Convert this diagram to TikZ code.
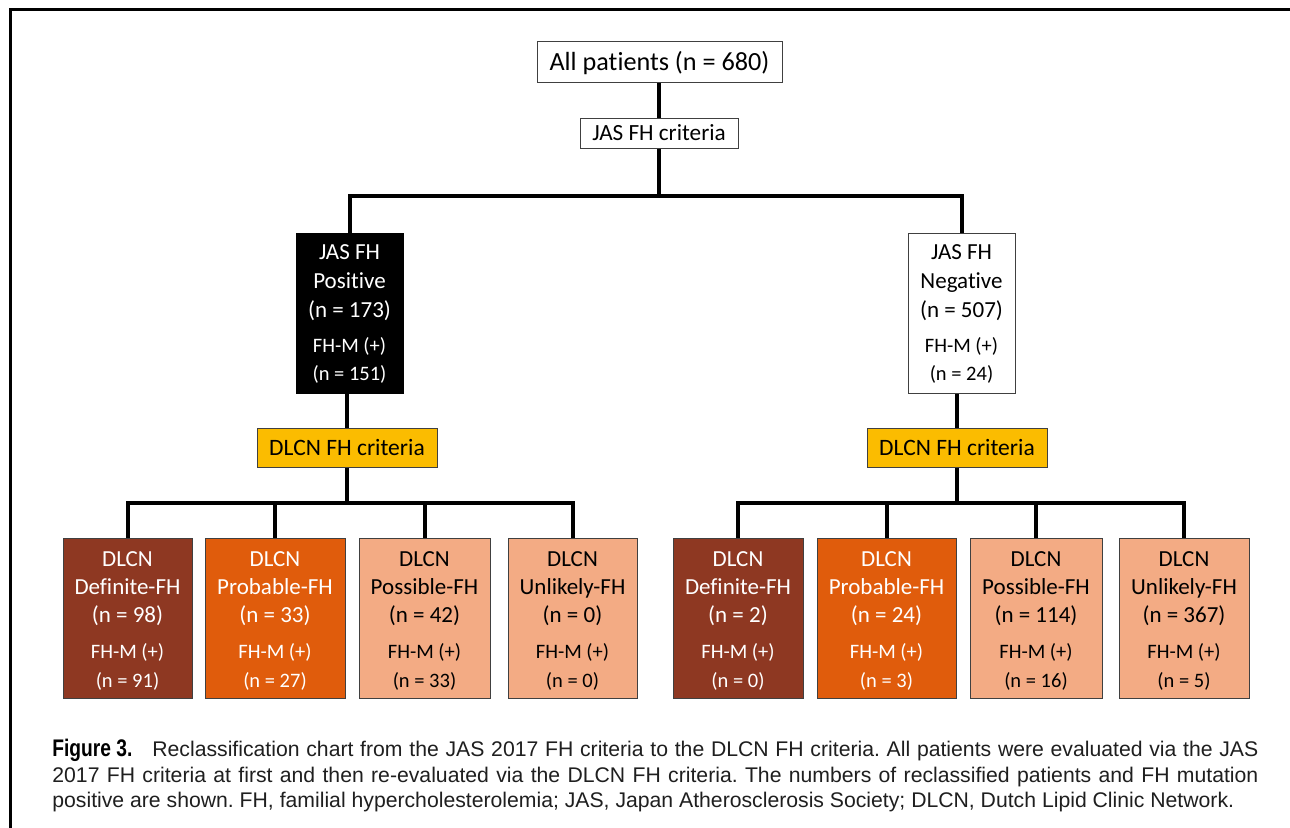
\documentclass[tikz,border=0pt]{standalone}
\usepackage{fontspec}
\setmainfont{Carlito}[Ligatures=CommonOff]
\newfontfamily\capfont{Liberation Sans}
\newfontfamily\figfont{Liberation Sans}[FakeStretch=0.8]
\usetikzlibrary{fit}
\definecolor{defc}{HTML}{8E3822}
\definecolor{probc}{HTML}{E05C0C}
\definecolor{possc}{HTML}{F3AB84}
\definecolor{goldc}{HTML}{FBBC00}
\frenchspacing
\begin{document}
\begin{tikzpicture}[x=0.5pt,y=-0.5pt,
  box/.style={draw=black!75,line width=0.5pt,inner sep=0pt},
  conn/.style={line width=2pt,line join=miter},
  big/.style={font=\fontsize{11.5}{13}\selectfont,anchor=base,inner sep=0pt},
  small/.style={font=\fontsize{10.25}{12}\selectfont,anchor=base,inner sep=0pt},
  captxt/.style={font=\capfont\fontsize{10.6}{12}\selectfont,text=black!88,anchor=base west,inner sep=0pt}]
\useasboundingbox (0,0) rectangle (1290,827);
\fill[white] (0,0) rectangle (1290,827);
% frame
\draw[line width=1.5pt] (10.5,840) -- (10.5,9.7) -- (1300,9.7);

% top boxes
\node[box,fit={(537,41)(782,82)}] (all) {};
\node[font=\fontsize{13.1}{15}\selectfont,anchor=base,inner sep=0pt] (allt) at (all |- 0,70) {All patients (n = 680)};
\node[box,fit={(580,118)(738,148)}] (jas) {};
\node[font=\fontsize{11.6}{13}\selectfont,anchor=base,inner sep=0pt] (jast) at (jas |- 0,140) {JAS FH criteria};

% positive / negative
\node[box,draw=black,fill=black,fit={(296,233)(403,393)}] (pos) {};
\node[big,text=white] (pos1) at (pos |- 0,259.5) {JAS FH};
\node[big,text=white] (pos2) at (pos |- 0,288) {Positive};
\node[big,text=white] (pos3) at (pos |- 0,317.5) {(n = 173)};
\node[small,text=white] (pos4) at (pos |- 0,352) {FH-M (+)};
\node[small,text=white] (pos5) at (pos |- 0,380) {(n = 151)};

\node[box,fit={(908,233)(1015,393)}] (neg) {};
\node[big] (neg1) at (neg |- 0,259.5) {JAS FH};
\node[big] (neg2) at (neg |- 0,288) {Negative};
\node[big] (neg3) at (neg |- 0,317.5) {(n = 507)};
\node[small] (neg4) at (neg |- 0,352) {FH-M (+)};
\node[small] (neg5) at (neg |- 0,380) {(n = 24)};

% DLCN criteria boxes
\node[box,fill=goldc,fit={(257,428)(437,467)}] (dl) {};
\node[font=\fontsize{11.75}{13}\selectfont,anchor=base,inner sep=0pt] (dlt) at (dl |- 0,455) {DLCN FH criteria};
\node[box,fill=goldc,fit={(867,428)(1047,467)}] (dr) {};
\node[font=\fontsize{11.75}{13}\selectfont,anchor=base,inner sep=0pt] (drt) at (dr |- 0,455) {DLCN FH criteria};

% bottom boxes
\foreach \i/\l/\r/\fc/\tc/\cat/\nn/\mm in {
  1/63/192/defc/white/Definite/98/91,
  2/205/345/probc/white/Probable/33/27,
  3/359/490/possc/black/Possible/42/33,
  4/508/637/possc/black/Unlikely/0/0,
  5/673/803/defc/white/Definite/2/0,
  6/817/956/probc/white/Probable/24/3,
  7/970/1102/possc/black/Possible/114/16,
  8/1119/1249/possc/black/Unlikely/367/5}
{
  \node[box,fill=\fc,fit={(\l,538)(\r,698)}] (d\i) {};
  \node[big,text=\tc] (d\i a) at (d\i |- 0,566) {DLCN};
  \node[big,text=\tc] (d\i b) at (d\i |- 0,594) {\cat-FH};
  \node[big,text=\tc] (d\i c) at (d\i |- 0,622.5) {(n = \nn)};
  \node[small,text=\tc] (d\i d) at (d\i |- 0,658) {FH-M (+)};
  \node[small,text=\tc] (d\i e) at (d\i |- 0,687) {(n = \mm)};
}

% connectors
\coordinate (jj) at (659,196);
\coordinate (lj) at (347,503);
\coordinate (rj) at (958,503);
\draw[conn] (jas.north) -- (jas.north |- all.south);
\draw[conn] (jas.south) -- (jj);
\draw[conn] (pos.north) -- (pos.north |- jj) -- (neg.north |- jj) -- (neg.north);
\draw[conn] (dl.north) -- (dl.north |- pos.south);
\draw[conn] (dr.north) -- (dr.north |- neg.south);
\draw[conn] (dl.south) -- (dl.south |- lj);
\draw[conn] (dr.south) -- (dr.south |- rj);
\draw[conn] (d1.north) -- (d1.north |- lj) -- (d4.north |- lj) -- (d4.north);
\draw[conn] (d2.north) -- (d2.north |- lj);
\draw[conn] (d3.north) -- (d3.north |- lj);
\draw[conn] (d5.north) -- (d5.north |- rj) -- (d8.north |- rj) -- (d8.north);
\draw[conn] (d6.north) -- (d6.north |- rj);
\draw[conn] (d7.north) -- (d7.north |- rj);

% caption
\node[anchor=base west,inner sep=0pt,font=\figfont\bfseries\fontsize{12}{14}\selectfont] (fig) at (52,756) {Figure 3.};
\node[captxt] (c1) at (152,756) {\makebox[553pt][s]{Reclassification chart from the JAS 2017 FH criteria to the DLCN FH criteria. All patients were evaluated via the JAS}};
\node[captxt] (c2) at (52,782) {\makebox[603pt][s]{2017 FH criteria at first and then re-evaluated via the DLCN FH criteria. The numbers of reclassified patients and FH mutation}};
\node[captxt] (c3) at (52,807) {positive are shown. FH, familial hypercholesterolemia; JAS, Japan Atherosclerosis Society; DLCN, Dutch Lipid Clinic Network.};
\end{tikzpicture}
\end{document}
